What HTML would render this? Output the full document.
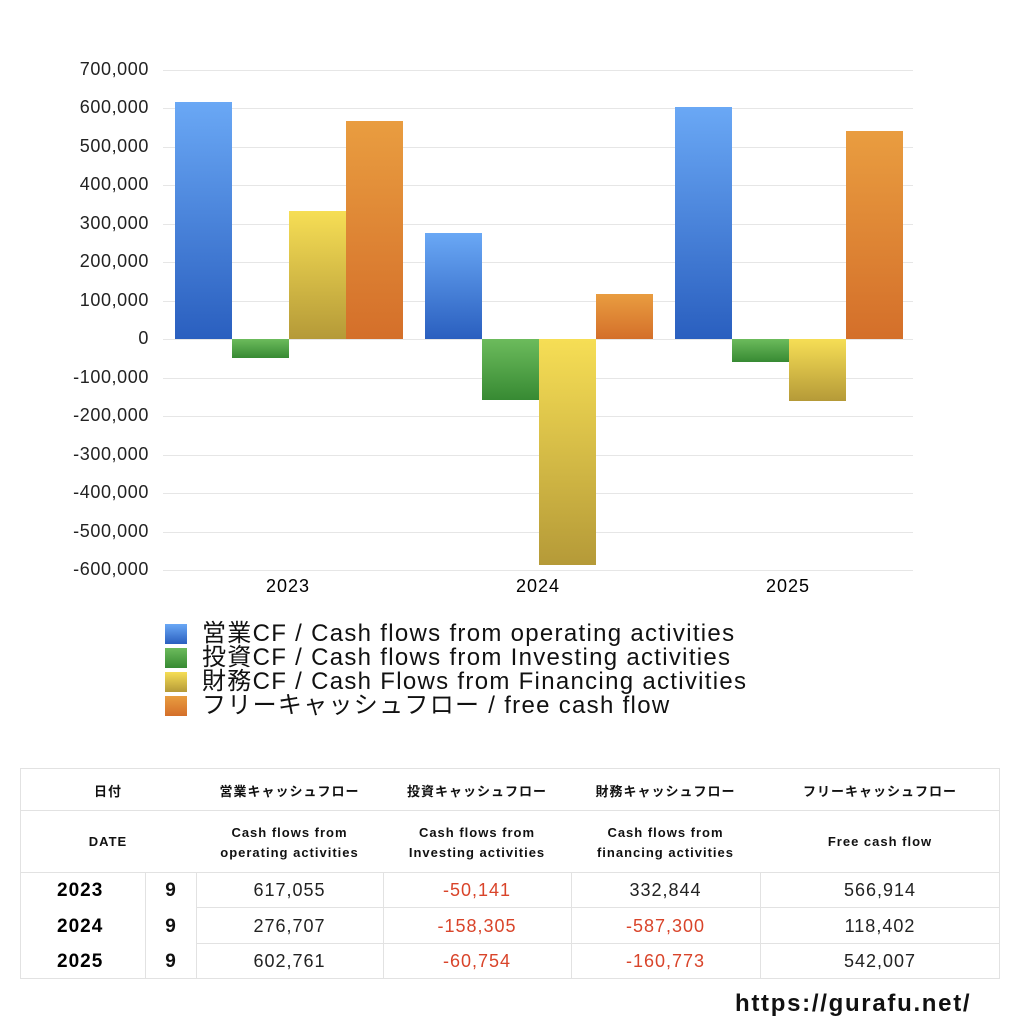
<!DOCTYPE html><html><head><meta charset="utf-8"><style>
body{margin:0;width:1024px;height:1024px;background:#fff;position:relative;font-family:"Liberation Sans","Noto Sans CJK JP",sans-serif;overflow:hidden}
.a{position:absolute}
.g{position:absolute;left:163px;width:750px;height:1px;background:#e6e6e6}
.yl{position:absolute;left:0;width:149px;text-align:right;font-size:18px;color:#222;letter-spacing:0.6px}
.b{position:absolute;width:57px}
.B{background:linear-gradient(#6aa8f5,#2a5fbf)}.G{background:linear-gradient(#6cbb5c,#378a33)}
.Y{background:linear-gradient(#f6de55,#b59a38)}.O{background:linear-gradient(#e99d40,#d46f2a)}
.lg{position:absolute;left:165px;width:22px;height:20px}
.lt{position:absolute;left:202px;font-size:24px;color:#111;line-height:24px;white-space:nowrap;letter-spacing:1.3px}
.h{position:absolute;background:#e2e2e2}
.c{position:absolute;text-align:center;color:#111}
.n{letter-spacing:1px;color:#222}
.hd{letter-spacing:1px}
.r{color:#d9442a}
</style></head><body>
<div class="g" style="top:70px"></div><div class="g" style="top:108px"></div><div class="g" style="top:147px"></div><div class="g" style="top:185px"></div><div class="g" style="top:224px"></div><div class="g" style="top:262px"></div><div class="g" style="top:301px"></div><div class="g" style="top:339px"></div><div class="g" style="top:378px"></div><div class="g" style="top:416px"></div><div class="g" style="top:455px"></div><div class="g" style="top:493px"></div><div class="g" style="top:532px"></div><div class="g" style="top:570px"></div>
<div class="yl" style="top:59px">700,000</div><div class="yl" style="top:97px">600,000</div><div class="yl" style="top:136px">500,000</div><div class="yl" style="top:174px">400,000</div><div class="yl" style="top:213px">300,000</div><div class="yl" style="top:251px">200,000</div><div class="yl" style="top:290px">100,000</div><div class="yl" style="top:328px">0</div><div class="yl" style="top:367px">-100,000</div><div class="yl" style="top:405px">-200,000</div><div class="yl" style="top:444px">-300,000</div><div class="yl" style="top:482px">-400,000</div><div class="yl" style="top:521px">-500,000</div><div class="yl" style="top:559px">-600,000</div>
<div class="b B" style="left:175px;top:102px;height:237px"></div>
<div class="b G" style="left:232px;top:339px;height:19px"></div>
<div class="b Y" style="left:289px;top:211px;height:128px"></div>
<div class="b O" style="left:346px;top:121px;height:218px"></div>
<div class="b B" style="left:425px;top:233px;height:106px"></div>
<div class="b G" style="left:482px;top:339px;height:61px"></div>
<div class="b Y" style="left:539px;top:339px;height:226px"></div>
<div class="b O" style="left:596px;top:294px;height:45px"></div>
<div class="b B" style="left:675px;top:107px;height:232px"></div>
<div class="b G" style="left:732px;top:339px;height:23px"></div>
<div class="b Y" style="left:789px;top:339px;height:62px"></div>
<div class="b O" style="left:846px;top:131px;height:208px"></div>
<div class="a" style="left:238px;top:576px;width:100px;text-align:center;font-size:18px;letter-spacing:1px">2023</div>
<div class="a" style="left:488px;top:576px;width:100px;text-align:center;font-size:18px;letter-spacing:1px">2024</div>
<div class="a" style="left:738px;top:576px;width:100px;text-align:center;font-size:18px;letter-spacing:1px">2025</div>
<div class="lg B" style="top:624px"></div><div class="lt" style="top:622px">営業CF / Cash flows from operating activities</div>
<div class="lg G" style="top:648px"></div><div class="lt" style="top:646px">投資CF / Cash flows from Investing activities</div>
<div class="lg Y" style="top:672px"></div><div class="lt" style="top:670px">財務CF / Cash Flows from Financing activities</div>
<div class="lg O" style="top:696px"></div><div class="lt" style="top:694px">フリーキャッシュフロー / free cash flow</div>
<div class="h" style="left:20px;top:768px;width:980px;height:1px"></div>
<div class="h" style="left:20px;top:810px;width:980px;height:1px"></div>
<div class="h" style="left:20px;top:872px;width:980px;height:1px"></div>
<div class="h" style="left:196px;top:907px;width:804px;height:1px"></div>
<div class="h" style="left:196px;top:943px;width:804px;height:1px"></div>
<div class="h" style="left:20px;top:978px;width:980px;height:1px"></div>
<div class="h" style="left:20px;top:768px;width:1px;height:210px"></div>
<div class="h" style="left:999px;top:768px;width:1px;height:210px"></div>
<div class="h" style="left:145px;top:872px;width:1px;height:106px"></div>
<div class="h" style="left:196px;top:872px;width:1px;height:106px"></div>
<div class="h" style="left:383px;top:872px;width:1px;height:106px"></div>
<div class="h" style="left:571px;top:872px;width:1px;height:106px"></div>
<div class="h" style="left:760px;top:872px;width:1px;height:106px"></div>
<div class="c hd" style="left:20px;top:781px;width:176px;font-size:13px;font-weight:bold">日付</div>
<div class="c hd" style="left:196px;top:781px;width:187px;font-size:13px;font-weight:bold">営業キャッシュフロー</div>
<div class="c hd" style="left:383px;top:781px;width:188px;font-size:13px;font-weight:bold">投資キャッシュフロー</div>
<div class="c hd" style="left:571px;top:781px;width:189px;font-size:13px;font-weight:bold">財務キャッシュフロー</div>
<div class="c hd" style="left:760px;top:781px;width:240px;font-size:13px;font-weight:bold">フリーキャッシュフロー</div>
<div class="c hd" style="left:20px;top:834px;width:176px;font-size:13px;font-weight:bold">DATE</div>
<div class="c hd" style="left:196px;top:823px;width:187px;font-size:13px;line-height:20px;font-weight:bold">Cash flows from<br>operating activities</div>
<div class="c hd" style="left:383px;top:823px;width:188px;font-size:13px;line-height:20px;font-weight:bold">Cash flows from<br>Investing activities</div>
<div class="c hd" style="left:571px;top:823px;width:189px;font-size:13px;line-height:20px;font-weight:bold">Cash flows from<br>financing activities</div>
<div class="c hd" style="left:760px;top:834px;width:240px;font-size:13px;font-weight:bold">Free cash flow</div>
<div class="a" style="left:57px;top:880px;font-size:19px;font-weight:bold;letter-spacing:1px">2023</div>
<div class="a" style="left:57px;top:916px;font-size:19px;font-weight:bold;letter-spacing:1px">2024</div>
<div class="a" style="left:57px;top:951px;font-size:19px;font-weight:bold;letter-spacing:1px">2025</div>
<div class="c" style="left:145px;top:880px;width:51px;font-size:19px;font-weight:bold">9</div>
<div class="c" style="left:145px;top:916px;width:51px;font-size:19px;font-weight:bold">9</div>
<div class="c" style="left:145px;top:951px;width:51px;font-size:19px;font-weight:bold">9</div>
<div class="c n" style="left:196px;top:880px;width:187px;font-size:18px">617,055</div>
<div class="c n" style="left:196px;top:916px;width:187px;font-size:18px">276,707</div>
<div class="c n" style="left:196px;top:951px;width:187px;font-size:18px">602,761</div>
<div class="c n r" style="left:383px;top:880px;width:188px;font-size:18px">-50,141</div>
<div class="c n r" style="left:383px;top:916px;width:188px;font-size:18px">-158,305</div>
<div class="c n r" style="left:383px;top:951px;width:188px;font-size:18px">-60,754</div>
<div class="c n" style="left:571px;top:880px;width:189px;font-size:18px">332,844</div>
<div class="c n r" style="left:571px;top:916px;width:189px;font-size:18px">-587,300</div>
<div class="c n r" style="left:571px;top:951px;width:189px;font-size:18px">-160,773</div>
<div class="c n" style="left:760px;top:880px;width:240px;font-size:18px">566,914</div>
<div class="c n" style="left:760px;top:916px;width:240px;font-size:18px">118,402</div>
<div class="c n" style="left:760px;top:951px;width:240px;font-size:18px">542,007</div>
<div class="a" style="left:735px;top:990px;font-size:24px;font-weight:bold;color:#111;letter-spacing:1.7px">https://gurafu.net/</div>
</body></html>
